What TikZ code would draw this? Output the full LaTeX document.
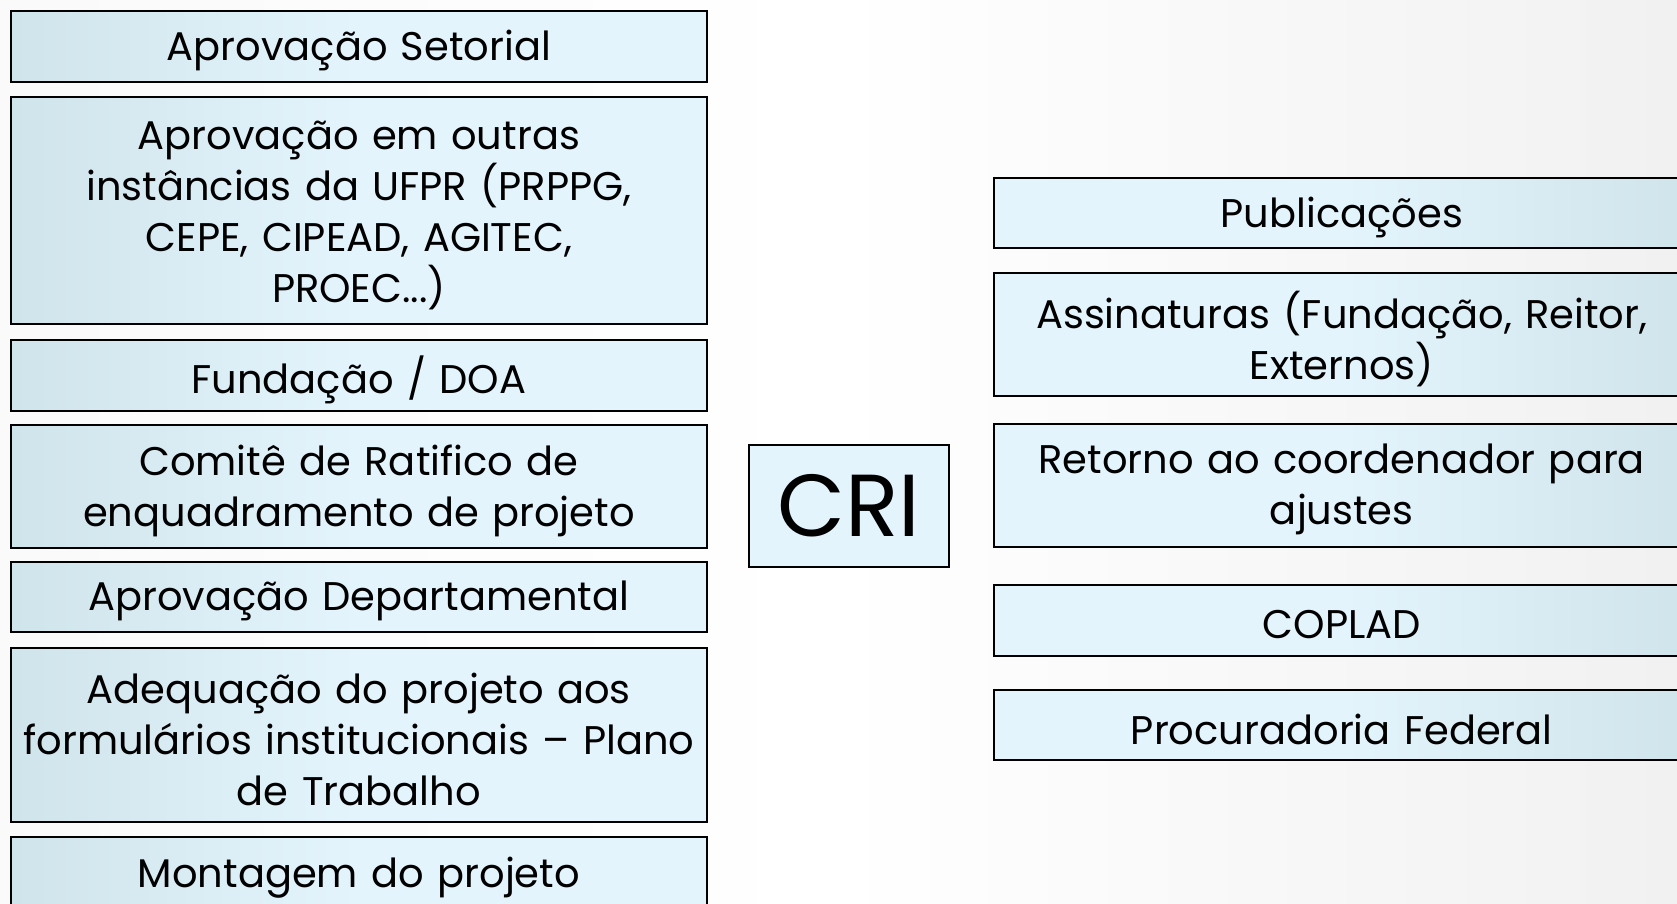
\documentclass[tikz,border=0pt]{standalone}
\usepackage{fontspec}
\setmainfont{Poppins}
\definecolor{caixa}{HTML}{E3F4FC}
\definecolor{borda}{HTML}{D0E4EC}
\tikzset{x=0.5pt, y=-0.5pt}
\tikzset{
  etapa/.style={draw=black, line width=1pt, minimum width=348pt, inner sep=0pt},
  etapaesq/.style={etapa, left color=borda, right color=caixa, middle color=caixa},
  etapadir/.style={etapa, left color=caixa, right color=borda, middle color=caixa},
  rotulo/.style={text width=345pt, align=center, inner sep=0pt, font=\fontsize{20}{25.5}\selectfont},
  central/.style={draw=black, line width=1pt, fill=caixa, minimum width=100pt,
    minimum height=61pt, inner sep=0pt, font=\fontsize{44}{50}\selectfont}
}

\begin{document}
\begin{tikzpicture}
\useasboundingbox (0,0) rectangle (1677,904);
\clip (0,0) rectangle (1677,904);
\shade[left color=gray!4, right color=gray!11, middle color=white] (0,0) rectangle (1677,904);
% left column: y / height / name / text
\foreach \y/\h/\n/\t in {46.5/71.7/setorial/{Aprovação Setorial},
  210.6/226.7/instancias/{Aprovação em outras\\instâncias da UFPR (PRPPG,\\CEPE, CIPEAD, AGITEC,\\PROEC...)},
  375.4/70.7/fundacao/{Fundação / DOA},
  486.1/123/comite/{Comitê de Ratifico de\\enquadramento de projeto},
  596.8/70.5/departamental/{Aprovação Departamental},
  735.2/174.4/adequacao/{Adequação do projeto aos\\formulários institucionais – Plano\\de Trabalho},
  872.8/70.7/montagem/{Montagem do projeto}}
{
\node[etapaesq, minimum height=\h*0.5pt] (\n) at (358.9,\y) {};
\node[rotulo] (\n-txt) at ([yshift=-2.2pt]\n.center) {\t};
}
% right column
\foreach \y/\h/\n/\t in {212.8/70.5/publicacoes/{Publicações},
  334.2/123/assinaturas/{Assinaturas (Fundação, Reitor,\\Externos)},
  485/123/retorno/{Retorno ao coordenador para\\ajustes},
  620.3/70.6/coplad/{COPLAD},
  725.1/70.6/procuradoria/{Procuradoria Federal}}
{
\node[etapadir, minimum height=\h*0.5pt] (\n) at (1341.8,\y) {};
\node[rotulo] (\n-txt) at ([yshift=-2.2pt]\n.center) {\t};
}
\node[central] (cri) at (848.7,505.9) {CRI};
\end{tikzpicture}
\end{document}
